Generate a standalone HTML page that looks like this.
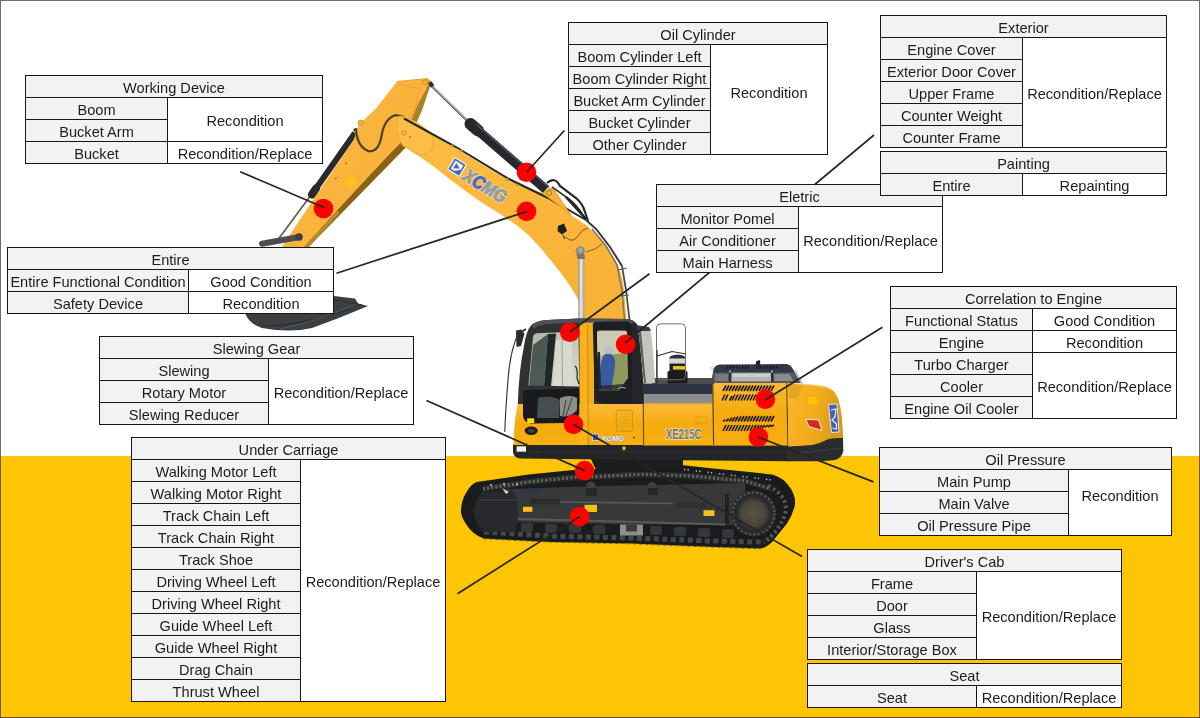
<!DOCTYPE html>
<html><head><meta charset="utf-8"><title>Excavator reconditioning diagram</title>
<style>
html,body{margin:0;padding:0;}
body{width:1200px;height:718px;overflow:hidden;background:#fff;position:relative;font-family:"Liberation Sans",sans-serif;}
#ground{position:absolute;left:0;top:456px;width:1200px;height:262px;background:#fdc504;border-top:1px solid #f3c230;box-shadow:0 -1px 0 #fffbe6;box-sizing:border-box;}
#frame{position:absolute;left:0;top:0;width:1198px;height:716px;border:1px solid rgba(60,60,60,.75);border-bottom-color:rgba(40,30,0,.7);pointer-events:none;z-index:9}
svg{position:absolute;left:0;top:0;}
.c{position:absolute;border:1px solid #161616;font-size:14.6px;color:#1c1c1c;text-align:center;white-space:nowrap;overflow:hidden;filter:grayscale(1);}
.h,.l{background:#f2f2f2;}
.v{background:#fff;}
#lines line{stroke:#262626;stroke-width:1.7;stroke-linecap:butt}
</style></head><body>
<div id="ground"></div>
<svg id="exc" width="1200" height="718" viewBox="0 0 1200 718">
<defs>
<linearGradient id="gArm" x1="0" y1="0" x2="1" y2="0.6">
<stop offset="0" stop-color="#fbb943"/><stop offset="1" stop-color="#f8b03a"/>
</linearGradient>
<linearGradient id="gBoom" x1="0" y1="0" x2="0.3" y2="1">
<stop offset="0" stop-color="#fcbd44"/><stop offset="1" stop-color="#f8b236"/>
</linearGradient>
<linearGradient id="gBody" x1="0" y1="0" x2="0" y2="1">
<stop offset="0" stop-color="#fdb93a"/><stop offset="0.5" stop-color="#f5ab0e"/><stop offset="1" stop-color="#f9af12"/>
</linearGradient>
<linearGradient id="gCw" x1="0" y1="0" x2="1" y2="0.3">
<stop offset="0" stop-color="#fbb62a"/><stop offset="0.6" stop-color="#f3ab1a"/><stop offset="1" stop-color="#d89a1a"/>
</linearGradient>
<linearGradient id="gRod" x1="0" y1="0" x2="1" y2="0">
<stop offset="0" stop-color="#8e8e8a"/><stop offset="0.45" stop-color="#eeeeea"/><stop offset="1" stop-color="#9a9a94"/>
</linearGradient>
<linearGradient id="gGlass" x1="0" y1="0" x2="1" y2="1">
<stop offset="0" stop-color="#aeb5a8"/><stop offset="1" stop-color="#d6dacb"/>
</linearGradient>
<radialGradient id="gSpr" cx="0.5" cy="0.5" r="0.5">
<stop offset="0" stop-color="#5a5446"/><stop offset="0.7" stop-color="#4a453a"/><stop offset="1" stop-color="#26272a"/>
</radialGradient>
<pattern id="teeth" width="6" height="6" patternUnits="userSpaceOnUse" patternTransform="rotate(8)">
<rect width="6" height="6" fill="#1b1d1e"/><rect x="0" y="0" width="3" height="6" fill="#3c3f3f"/>
</pattern>
</defs>

<!-- ===== BUCKET ===== -->
<g id="bucket">
<path d="M245 300 L245 313 Q249 324 262 328 Q290 333 312 328 Q340 318 368 306 L358 303.5 L355 298.5 L334 296 Z" fill="#3b3e43"/>
<path d="M262 326 Q300 326 350 309" stroke="#2a2c30" stroke-width="1.2" fill="none"/>
<path d="M280 329 Q315 322 356 304" stroke="#55585e" stroke-width="1" fill="none"/>
<path d="M334 300 Q348 302 362 305" stroke="#2a2c30" stroke-width="1" fill="none"/>
</g>

<!-- ===== BUCKET CYLINDER (left of arm) ===== -->
<g id="bcyl">
<line x1="311" y1="195" x2="277" y2="241" stroke="#6a6248" stroke-width="1.8"/>
<line x1="355" y1="133" x2="313.5" y2="192" stroke="#2a2a2d" stroke-width="6" />
<line x1="316" y1="188.5" x2="312" y2="194.5" stroke="#2a2a2d" stroke-width="8" stroke-linecap="round"/>
<path d="M354 129 L358 134" stroke="#222" stroke-width="2.4"/>
</g>

<!-- ===== ARM / STICK ===== -->
<g id="arm">
<!-- underside brown band -->
<path d="M400.4 142.5 L406.5 146.8 L310.1 245.4 L308 248 L302 248 L336.9 210.3 L380.3 163.4Z" fill="#8d6312"/>
<path d="M336.9 210.3 L340 212.5 L308 248 L303 248Z" fill="#b98a2c"/>
<!-- face -->
<path d="M397 81.5 L428 78.5 Q431.5 81 430.5 85 L428.7 90 L422 110 L416.8 122 L411 136 L400.4 142.5 L380.3 163.4 L336.9 210.3 L305.1 245.4 L303 248 L281 248 L290 234.5 L315.1 196.9 L353.6 140 L357.3 130 Q358.5 122 362 121.5 L376 108.5 Z" fill="url(#gArm)"/>
<!-- right side shading of upper part -->
<path d="M429 80 Q431.5 81.5 430.5 85 L422 110 L416.8 122 L411.5 119.5 L418 104 L427 88 Z" fill="#a9802a"/>
<path d="M399 84 L419 88.5 L414.5 112 L408 120" stroke="#e2a436" stroke-width="0.9" fill="none"/>
<path d="M397 81.5 L428 78.5" stroke="#e0a234" stroke-width="1"/>
<circle cx="425" cy="82.3" r="2.7" fill="#f1ad3a" stroke="#c98f26" stroke-width="0.8"/>
<circle cx="360.8" cy="122.8" r="2.7" fill="#f4b03c" stroke="#c98f26" stroke-width="0.8"/>
<!-- hydraulic hose -->
<path d="M356 128 Q356.5 146 368 151 Q378.5 153 381.5 136 Q384.5 118 396 115 L404 117" stroke="#8a6e22" stroke-width="2.6" fill="none"/>
<path d="M356 128 Q356.5 146 368 151 Q378.5 153 381.5 136 Q384.5 118 396 115 L404 117" stroke="#3a3220" stroke-width="1.2" fill="none"/>
<!-- small dots & sticker -->
<circle cx="346" cy="163.4" r="1" fill="#b07a18"/><circle cx="335.7" cy="178.5" r="1" fill="#b07a18"/>
<rect x="345" y="177" width="11" height="9" rx="3" fill="#fcc616" opacity="0.85" transform="rotate(-20 350.5 181.5)"/>
</g>

<g id="link">
<line x1="262" y1="243.8" x2="298" y2="237.2" stroke="#4c4e52" stroke-width="6" stroke-linecap="round"/>
<circle cx="299" cy="237" r="3.8" fill="#3c3e42"/>
</g>

<!-- ===== ARM CYLINDER (on boom) ===== -->
<g id="acyl">
<line x1="430.5" y1="84.5" x2="467.5" y2="120.5" stroke="#a5a5a0" stroke-width="2.4"/>
<line x1="430" y1="85.5" x2="467" y2="121.5" stroke="#4a4a4a" stroke-width="1"/>
<rect x="429" y="82" width="4" height="5" fill="#2a2c30" transform="rotate(-30 431 84)"/>
<line x1="471" y1="124.5" x2="546" y2="189.5" stroke="#26282d" stroke-width="9.5" />
<line x1="470.5" y1="124" x2="478" y2="130.5" stroke="#26282d" stroke-width="12" stroke-linecap="round"/>
<line x1="476" y1="124" x2="549" y2="187.3" stroke="#50535a" stroke-width="1.4"/>
</g>

<!-- ===== BOOM ===== -->
<g id="boom">
<path d="M398 116.5 Q404 114 416.5 124.5 L456 148.5 L509 180.5 L545 194 L549 188 Q553 187 556 193 L571 215 L587.5 226 L604 243 Q613 255 618 265 Q623 279 624 290 L626.5 320 L580 320 L579.5 305 L577.9 299.2 L573 290.5 L567.9 282.5 L560 272 L552 262 L541 248.5 L530 236.5 L517 225.5 L500.3 214 L483.6 203.8 L466.9 192 L450.2 179.5 L433.4 166.2 L420 157 Q410 151 406 147 Q398 142 397.5 135 Q395 125 398 116.5Z" fill="url(#gBoom)"/>
<!-- boss at tip -->
<path d="M398 118 Q410 116 430 132 Q436 140 431 150 Q425 158 414 152 L403 146 Q396 138 398 118Z" fill="#fcbe48" stroke="#dfa334" stroke-width="0.7"/>
<circle cx="404" cy="133" r="2.3" fill="none" stroke="#b88220" stroke-width="0.8"/>
<circle cx="410" cy="137" r="1.1" fill="#b88220"/>
<!-- hoses along top -->
<path d="M404 118.5 L456 147 L509 179 L548 198 L586 220" stroke="#2a2722" stroke-width="2" fill="none"/>
<circle cx="452" cy="146" r="1.6" fill="#d29a2a"/><circle cx="461" cy="151" r="1.6" fill="#d29a2a"/>
<circle cx="507" cy="179.5" r="1.6" fill="#d29a2a"/><circle cx="517" cy="185" r="1.6" fill="#d29a2a"/>
<!-- lug -->
<path d="M543 194 Q548 186 555 191 L571 215 L560 206Z" fill="#f7b436" stroke="#c99328" stroke-width="0.7"/>
<circle cx="549" cy="193" r="2.6" fill="none" stroke="#a8781c" stroke-width="0.9"/>
<!-- hoses from cylinder going down the back of boom -->
<path d="M547 183 Q555 176 560 186 L576 198 Q583 204 585 212 L588 221" stroke="#29282a" stroke-width="2.2" fill="none"/>
<path d="M552 187 L569 199 Q578 206 584 217" stroke="#3a3630" stroke-width="1.6" fill="none"/>
<path d="M566 197 L586 219" stroke="#222" stroke-width="2.6" fill="none"/>
<path d="M586 220 L596 229 L610 247 L622 266" stroke="#3c3c3a" stroke-width="2" fill="none"/>
<path d="M592 229 L606 246 L617 265 L622 290 L624.5 320" stroke="#77756a" stroke-width="1.5" fill="none"/>
<path d="M622 266 L626 290 L629.5 320" stroke="#4c4c48" stroke-width="1.8" fill="none"/>
<path d="M618 270 L627 268 M621 296 L629 295" stroke="#55554e" stroke-width="1"/>
<!-- work light -->
<path d="M558 226 L564 223.5 L567 231 L562 234.5 L557.5 231Z" fill="#1d1e20"/>
<path d="M563 235 L565 239" stroke="#333" stroke-width="1.1"/>
<path d="M566 237 Q572 244 578 236 Q582 229 588 228" stroke="#3a3020" stroke-width="0.7" fill="none"/>
<path d="M586 252 Q596 250 602 244" stroke="#3a3020" stroke-width="0.6" fill="none"/>
<!-- XCMG logo -->
<g transform="translate(448.3,171) rotate(31.5)">
<rect x="-1.6" y="-14.8" width="13.8" height="13.8" rx="1" fill="#4767b5" stroke="#eef1f7" stroke-width="1.2"/>
<path d="M0.7 -12.6 L10 -12.6 L10 -7.6 L5.4 -3.2 L0.7 -3.2 Z" fill="#eef1f7"/>
<path d="M2.8 -11 L8.3 -7.9 L2.8 -4.8 Z" fill="#4767b5"/>
<text x="15.5" y="0" font-family="Liberation Sans, sans-serif" font-weight="bold" font-style="italic" font-size="18.3" stroke="#eef0f0" stroke-width="1.7" paint-order="stroke" stroke-linejoin="round" textLength="47.5" lengthAdjust="spacingAndGlyphs"><tspan fill="#999b9c">X</tspan><tspan fill="#4c68c4">C</tspan><tspan fill="#999b9c">MG</tspan></text>
<text x="15.5" y="0" font-family="Liberation Sans, sans-serif" font-weight="bold" font-style="italic" font-size="18.3" stroke-width="1.0" textLength="47.5" lengthAdjust="spacingAndGlyphs"><tspan fill="#999b9c" stroke="#999b9c">X</tspan><tspan fill="#4c68c4" stroke="#4c68c4">C</tspan><tspan fill="#999b9c" stroke="#999b9c">MG</tspan></text>
</g>

<!-- ===== BOOM CYLINDER (silver) ===== -->
<g id="boomcyl">
<rect x="578.3" y="255" width="6" height="65" fill="url(#gRod)"/>
<circle cx="580.3" cy="251" r="4.6" fill="#8b8b85"/>
<circle cx="580.3" cy="250.5" r="2.4" fill="#aaa9a2"/>
<path d="M576.5 254 L584.5 254 L584.8 259 L577.5 259Z" fill="#77776f"/>
</g>

<!-- ===== TRACKS ===== -->
<g id="tracks">
<!-- outer belt -->
<path d="M476.5 482 L528.5 474.5 L573.5 470 L600 469 L681 465 L713.5 468.5 L747 471.7 L772 474.5 Q781 477 785.5 482 Q792 489 793.8 495 Q796 501 794.5 507 Q792 516 787 523.5 L772 542 Q766 548 760 548.6 L713.5 547 L630 543.6 L550 542 L483.5 538.6 Q472 534 466 524 Q460.5 516 461 510 Q461.5 500 466 493 Q470 485 476.5 482Z" fill="#1a1b1c"/>
<!-- belt top surface lighter w/ teeth -->
<path d="M482 486 L529 479 L574 474.5 L600 473.5 L640 471.5 L690 473 L745 478 L768 486 L772 491 L745 484 L690 479 L640 477.5 L600 479.5 L574 480.5 L529 485 L484 492Z" fill="#2c2e2f"/>
<path d="M483 489 L529 482 L574 477.5 L600 476.5 L640 474.5 L690 476 L745 481 L769 488.5" stroke="#66685f" stroke-width="3.4" stroke-dasharray="1.8 2.4" fill="none"/>
<path d="M483 491.5 L529 484.5 L574 480 L600 479 L640 477 L690 478.5 L745 483.5 L769 491" stroke="#242627" stroke-width="1.4" fill="none"/>
<!-- white dots on belt top right -->
<path d="M684 469.5 L772 480" stroke="#c8c8c8" stroke-width="1.4" stroke-dasharray="1.3 2.2 1.3 7" fill="none"/>
<!-- bottom teeth -->
<path d="M484 532 L550 536 L630 538 L713 541 L762 542" stroke="#45484a" stroke-width="5" stroke-dasharray="5 3.5" fill="none"/>
<path d="M483.5 538.8 L550 542.2 L630 543.8 L713.5 547.2 L760 548.8" stroke="#6d5a18" stroke-width="0.9" stroke-dasharray="3 3" fill="none"/>
<!-- inner frame -->
<path d="M505 489 L600 486 L745 483 L745 525 L600 524 L505 522Z" fill="#37383a"/>
<path d="M560 502 L673 503.5" stroke="#5a5c5c" stroke-width="1.3"/>
<path d="M517 519 L600 521 L725 524.5" stroke="#5a5b55" stroke-width="2"/>
<rect x="530" y="498.5" width="30" height="6" fill="#2a2b2d"/><rect x="676" y="502" width="30" height="6" fill="#2f3032"/>
<path d="M523 490 L540 489 L540 492 L523 493Z" fill="#2c3358"/>
<!-- rollers bottom -->
<g fill="#33363a"><rect x="521" y="523" width="12" height="9" rx="2"/><rect x="545" y="524" width="12" height="9" rx="2"/><rect x="569" y="524" width="12" height="9" rx="2"/><rect x="593" y="525" width="12" height="9" rx="2"/><rect x="650" y="526" width="12" height="9" rx="2"/><rect x="674" y="527" width="12" height="9" rx="2"/><rect x="698" y="528" width="12" height="9" rx="2"/><rect x="722" y="529" width="12" height="9" rx="2"/></g>
<rect x="620" y="524.5" width="23" height="11" fill="#8e8e86"/><rect x="626" y="524.5" width="11" height="7" fill="#3a3a3a"/>
<!-- carrier roller -->
<circle cx="591" cy="486" r="4.6" fill="#3e4043"/><rect x="586" y="488" width="11" height="8" fill="#26282b"/>
<circle cx="652" cy="486" r="4" fill="#3e4043"/><rect x="648" y="488" width="10" height="7" fill="#26282b"/>
<!-- idler -->
<path d="M482 492 Q474 500 474 512 Q475 524 484 532 L514 532 Q518 528 518 512 Q518 496 512 490Z" fill="#27292c"/>
<path d="M480 500 L516 500" stroke="#3f4246" stroke-width="1"/>
<path d="M502 488 L509 492 L506 494Z" fill="#d0d0d0"/>
<!-- sprocket -->
<circle cx="753.5" cy="513.5" r="23" fill="#2a2b2c"/>
<circle cx="753.5" cy="513.5" r="21" fill="none" stroke="#5c5a50" stroke-width="2" stroke-dasharray="2 2.4"/>
<circle cx="753.5" cy="513.5" r="17.5" fill="url(#gSpr)"/>
<rect x="725" y="494" width="4" height="30" fill="#1f2022"/>
<!-- belt teeth on right curve -->
<path d="M768 486 Q786 494 786 510 Q782 528 764 543" stroke="#55585a" stroke-width="4" stroke-dasharray="2.5 3" fill="none"/>
<!-- yellow labels -->
<rect x="523" y="506.8" width="9.4" height="5" fill="#f6c116"/>
<rect x="584.5" y="504.8" width="12.5" height="7.2" fill="#f6c116"/>
<rect x="703.5" y="510.2" width="10.9" height="5.8" fill="#f6c116"/>
<!-- left end white dots -->
<circle cx="491" cy="485" r="0.9" fill="#ddd"/><circle cx="504" cy="484" r="0.9" fill="#ddd"/><circle cx="517" cy="484.5" r="0.9" fill="#ddd"/>
</g>

<!-- ===== UPPER BODY ===== -->
<g id="body">
<!-- swing base / shadow -->
<path d="M590 457 L683 459 L683 466 L640 472 L600 470 L596 470Z" fill="#1c1d1f"/>
<!-- bottom dark skirt -->
<path d="M513 444.5 L790 444.5 L790 461.2 L650 460 L520 458.6 Q513 457.5 513 451Z" fill="#232528"/>
<path d="M513 452 L790 452" stroke="#2f3135" stroke-width="1"/>
<!-- counterweight dark lower -->
<path d="M788.8 446.2 L812 444.6 Q821 442.5 828 438.6 Q834 437 843 437.2 L843.3 451 Q842 458 835 460 L821 461.2 L788.8 461.2Z" fill="#2a2c30"/>
<path d="M800 453 L843 448" stroke="#3d4046" stroke-width="1"/>
<!-- mid body yellow -->
<rect x="643" y="403.5" width="70" height="42" fill="url(#gBody)"/>
<!-- dark top band -->
<rect x="643" y="383.5" width="70" height="11" fill="#2d3242"/>
<rect x="643" y="394.3" width="70" height="9.6" fill="#8c8c8c"/>
<rect x="643" y="402.8" width="70" height="1.5" fill="#c9a24a"/>
<!-- engine hood panel -->
<rect x="712.4" y="382.6" width="76" height="63" fill="url(#gBody)"/>
<line x1="712.8" y1="383" x2="713.6" y2="445" stroke="#5a4414" stroke-width="1.2"/>
<line x1="786.8" y1="383" x2="788.2" y2="460" stroke="#4a3a14" stroke-width="1.1"/>
<!-- engine top cover -->
<path d="M711.4 383 L713.4 369.5 Q715 365 720 364.6 L786 363.9 Q790.5 364.3 792.6 368.5 L800.8 383Z" fill="#323848"/>
<path d="M713 372.5 L794.5 372.5 L800.8 383 L711.4 383Z" fill="#555a62"/>
<path d="M731.5 372.8 L771 372.8 L772 381.6 L731 381.6Z" fill="#b4b5ae"/>
<path d="M733 374 L769.5 374 L770 377 L733 377Z" fill="#cfd0ca"/>
<path d="M715.5 374 L728 374 L728 381 L714.5 381Z" fill="#767a7e"/>
<path d="M774 374 L789.5 374 L793.5 381 L774.5 381Z" fill="#8a8d8e"/>
<rect x="729" y="370.5" width="2.2" height="11.5" fill="#2b2f3a"/><rect x="771" y="370.5" width="2.2" height="11.5" fill="#2b2f3a"/>
<circle cx="730" cy="371.5" r="0.9" fill="#dcdcdc"/><circle cx="772" cy="371.5" r="0.9" fill="#dcdcdc"/>
<path d="M727 367.3 L749 367.3 M761 367.3 L779 367.3" stroke="#15171c" stroke-width="3" stroke-dasharray="1.4 1.6"/>
<path d="M755.5 369 L756 361.2 L760 360 L760.5 369Z" fill="#23262d"/>
<path d="M792.6 368.5 L800.8 383 L803.5 384 L795.5 370Z" fill="#c2c2ba"/>
<path d="M710 367.5 L714.5 369.5" stroke="#888" stroke-width="0.6"/>
<!-- vents -->
<g stroke="#20180a" stroke-width="1.6">
<path d="M723 391 L726 385.5 M726 391 L729 385.5 M729 391 L732 385.5 M732 391 L735 385.5 M735 391 L738 385.5 M738 391 L741 385.5 M741 391 L744 385.5 M744 391 L747 385.5 M747 391 L750 385.5 M750 391 L753 385.5 M753 391 L756 385.5 M756 391 L759 385.5 M759 391 L762 385.5 M762 391 L765 385.5 M765 391 L768 385.5 M768 391 L771 385.5 M771 391 L774 385.5"/>
<path d="M722 400.5 L725 394.5 M725 400.5 L728 394.5 M729.5 400.5 L732 396 M732 400.5 L735 394.5 M735 400.5 L738 394.5 M738 400.5 L741 394.5 M741 400.5 L744 394.5 M744 400.5 L747 394.5 M747 400.5 L750 394.5 M750 400.5 L753 394.5 M753 400.5 L756 394.5"/>
<path d="M723 421.5 L725 419.5 M726 421.5 L728.5 418.5 M729 421.5 L732 417.5 M732 421.5 L735 417 M735 421.5 L738 416.5 M738 421.5 L741 416.3 M741 421.5 L744 416 M744 421.5 L747 416 M747 421.5 L750 416 M750 421.5 L753 416 M753 421.5 L756 416 M756 421.5 L759 416 M759 421.5 L762 416 M762 421.5 L765 416 M765 421.5 L768 416 M768 421.5 L771 416 M771 421.5 L774 416"/>
<path d="M723 431 L726 425 M726 431 L729 425 M729 431 L732 425 M732 431 L735 425 M735 431 L738 425 M738 431 L741 425 M741 431 L744 425 M744 431 L747 425 M747 431 L750 425 M750 431 L753 425 M753 430.5 L756 425 M756 429.5 L759 425 M759 428.5 L762 425 M762 428 L765 425 M765 427.5 L768 425 M768 427 L771 425 M771 426.5 L774 425"/>
</g>
<!-- counterweight -->
<path d="M787.4 383 Q810 383.5 825.4 386.5 Q834 389 837.5 397 Q841 407 842 418 L843.2 438 Q834 437.5 828 439.2 Q821 443 812 445 L788.4 446.6Z" fill="url(#gCw)"/>
<path d="M788 384 Q796 384 803 386 Q800 392 797 398 L789 398Z" fill="#d29a20" opacity=".55"/>
<path d="M800 383.8 Q822 386 832 390" stroke="#f8d88c" stroke-width="1" fill="none" opacity=".7"/>
<rect x="807" y="396.5" width="10.5" height="8.5" fill="#f8c208" stroke="#e6b010" stroke-width="0.6"/>
<path d="M805.9 419.3 L818.6 420 L821.9 430.4 L808.9 426.5Z" fill="#d6281e" stroke="#f0e6dc" stroke-width="1"/>
<path d="M828.5 404.5 L837 404 L839 432 L831.5 432.5Z" fill="#4460ae" stroke="#dfe4ee" stroke-width="1"/>
<path d="M831 410 L836 409 L835 417 L832 420 L836.5 424 L836.5 429 L832.5 428" stroke="#eef0f6" stroke-width="1.2" fill="none"/>
<!-- XE215C -->
<text x="665.8" y="439.1" font-family="Liberation Sans, sans-serif" font-weight="bold" font-size="15.5" fill="#787878" stroke="#ecdfb8" stroke-width="1.7" paint-order="stroke" stroke-linejoin="round" textLength="35.6" lengthAdjust="spacingAndGlyphs">XE215C</text>
<rect x="696" y="417" width="11" height="6.5" fill="none" stroke="#d99e20" stroke-width="0.8"/>
<!-- precleaner / air filter -->
<rect x="652" y="378" width="62" height="6" fill="#4a4c52"/>
<rect x="669.5" y="362" width="16" height="21" fill="#1e1f22"/>
<rect x="667.5" y="371" width="20" height="12.5" rx="1.5" fill="#1b1c1f"/>
<rect x="669.2" y="358" width="16.6" height="5.6" fill="#d8d6c8"/>
<path d="M669 358.6 Q669.5 355 677.5 354.6 Q685.5 355 686 358.6Z" fill="#2b3040"/>
<rect x="673" y="366" width="13" height="3.6" fill="#e6c41e"/>
<!-- mirror -->
<rect x="656.5" y="323.8" width="29" height="56" rx="4" fill="none" stroke="#6f716f" stroke-width="1"/>
<path d="M657 356 L672 351.5 L686 354" stroke="#2a2c2e" stroke-width="1.2" fill="none"/>
<line x1="657" y1="350" x2="657" y2="384" stroke="#333" stroke-width="1.3"/>
</g>

<!-- ===== CAB ===== -->
<g id="cab">
<!-- cab shell dark -->
<path d="M517.8 404 Q519 370 523.7 347.5 Q526 331 531 325.5 Q536 320.5 547.5 320 L578 318.5 L628 319 Q634 320 636.5 324 L640 340 L643.5 385.5 L643.5 404Z" fill="#2f3133"/>
<!-- roof highlight -->
<path d="M531 325.5 Q536 320.5 547.5 320 L578 318.5 L628 319 Q634 320 636.5 324 L580 322.5 L548 324 Q538 325 534 329Z" fill="#4d5054"/>
<!-- yellow lower cab -->
<path d="M517.8 404 L643.5 404 L643.5 445 L513.5 445 Q514 420 517.8 404Z" fill="url(#gBody)"/>
<!-- yellow pillar + door frame -->
<path d="M579.5 323 L589 322.5 L589 445 L579.5 445Z" fill="#f9b21c"/>
<path d="M589 322.5 L594 322.5 L594 404 L589 404Z" fill="#f5ac18"/>
<path d="M586 404 L643.5 404 L643.5 445 L588 445Z" fill="url(#gBody)"/>
<line x1="587.6" y1="324" x2="588.3" y2="445" stroke="#b8841a" stroke-width="0.9"/>
<line x1="643.2" y1="385" x2="643.6" y2="445" stroke="#6a5216" stroke-width="1.2"/>
<!-- front upper glass -->
<path d="M528.4 385.5 L533.1 336 Q534 333.5 537 333.3 L578.5 331.5 L579.3 386.4Z" fill="url(#gGlass)"/>
<path d="M533 345 L548 334 L544 386 L529 386Z" fill="#3a4542" opacity=".85"/>
<path d="M548 334 L556 333.5 L551 386 L544 386Z" fill="#202827"/>
<path d="M556 340 L572 338 L573 386 L553 386Z" fill="#d9ddd2" opacity=".8"/>
<line x1="562" y1="338" x2="562.5" y2="386" stroke="#8d948c" stroke-width="0.8"/>
<path d="M575 366 Q578 368 577 378 L579 384" stroke="#2c2f2e" stroke-width="1.3" fill="none"/>
<!-- front lower window -->
<path d="M523 390 L579.3 388.5 L579.3 414 Q577 422 568 423 L531 423.5 Q524 423 523 416Z" fill="#181a1d"/>
<path d="M538 398 Q550 394 560 400 L559 418 L537 418Z" fill="#474d50"/>
<path d="M560 398 Q570 394 577 398 L577 410 Q570 418 560 416Z" fill="#a9ada6" opacity=".8"/>
<path d="M566 400 L563 416 M572 398 L566 416" stroke="#3a3d3c" stroke-width="1"/>
<!-- door window frame -->
<path d="M592.8 325 Q593 322.2 596 322 L627 321.3 Q631 322 632.5 328.4 L632.5 404.1 L603 404.1 Q595 402 594.7 395Z" fill="#1d1f22"/>
<path d="M597 333 Q597 331 599 330.8 L625 330.8 Q627 331 627 333 L627.8 378 L618.3 391.1 L600.5 391.1 Q599 391 599 389Z" fill="#b3b896"/>
<path d="M597 333 Q597 331 599 330.8 L625 330.8 Q627 331 627 333 L627 352 L597.5 356Z" fill="#c9ccb0"/>
<!-- operator -->
<path d="M612 355 L626.5 353 L627.5 378 L619.5 389 L610 389 Q612 372 612 355Z" fill="#8e9a58"/>
<path d="M600 388 Q599 366 603 356 Q606 352 611 354 Q616 357 615 366 Q613 380 611 390Z" fill="#3a5aa0"/>
<ellipse cx="608" cy="350" rx="4.6" ry="4" fill="#b9c0cc"/>
<path d="M597.5 352 L600 352 L601 389 L598 389Z" fill="#23272a"/>
<path d="M598 386 L624 384 L618.3 391.1 L599.4 391.1Z" fill="#23272a" opacity=".8"/>
<path d="M618 388.5 Q622 386.5 626 388" stroke="#c8c8c8" stroke-width="0.8" fill="none"/>
<!-- rear pillar and quarter glass -->
<path d="M632.5 322 L637 324 L643.5 385 L643.5 404 L632.5 404Z" fill="#232528"/>
<path d="M638.5 331 L650 329 Q653 340 655 383 L644 383Z" fill="#c5c6bb"/>
<path d="M636 325 L649 327 L651 331 L638 331Z" fill="#3a3c40"/>
<path d="M638.5 331 L641 331 L646 383 L644 383Z" fill="#5d6060"/>
<!-- door vent -->
<rect x="616.3" y="410.3" width="16" height="21" rx="1.5" fill="none" stroke="#c98f18" stroke-width="0.9"/>
<path d="M618.5 414 L630 414 M618.5 417 L630 417 M618.5 420 L630 420 M618.5 423 L630 423 M618.5 426 L630 426" stroke="#d99c1c" stroke-width="0.7"/>
<!-- door XCMG logo -->
<rect x="592.5" y="434" width="6" height="6.5" fill="#3f5eb0" stroke="#e4e8f2" stroke-width="0.7"/>
<text x="601.5" y="440.6" font-family="Liberation Sans, sans-serif" font-weight="bold" font-style="italic" font-size="8" fill="#e8ecf4" stroke="#7e90c0" stroke-width="0.6" paint-order="stroke" textLength="22.5" lengthAdjust="spacingAndGlyphs">XCMG</text>
<circle cx="634" cy="437.5" r="0.9" fill="#5a4210"/>
<rect x="622.5" y="446.5" width="3" height="3.6" fill="#e8bf28"/>
<!-- headlight, stickers -->
<ellipse cx="531.2" cy="430.8" rx="6.6" ry="4.2" fill="#1a1b1d"/>
<ellipse cx="531.2" cy="430.8" rx="3.6" ry="2" fill="#3d4044"/>
<rect x="527.2" y="418.3" width="7" height="4.8" fill="#ffd91a"/>
<rect x="516.6" y="446.3" width="9.4" height="5.4" fill="#f2f2f0"/>
<!-- handrail / wiper on the left -->
<path d="M519 332 Q510 350 508 380 Q505.5 410 504.8 432" stroke="#2d2f31" stroke-width="1.1" fill="none"/>
<path d="M516 330.5 L521.5 329.5 L524.5 334 L521 346 L516.5 347Z" fill="#2a2c2f"/>
<path d="M520 333 L526 329" stroke="#2a2c2f" stroke-width="1.6"/>
</g>

</svg>
<svg id="dots" width="1200" height="718" viewBox="0 0 1200 718">
<circle cx="323.5" cy="208.5" r="9.8" fill="#fe0000"/>
<circle cx="526.5" cy="172.3" r="9.8" fill="#fe0000"/>
<circle cx="526.5" cy="211.4" r="9.8" fill="#fe0000"/>
<circle cx="569.8" cy="332.2" r="9.8" fill="#fe0000"/>
<circle cx="625.6" cy="344.4" r="9.8" fill="#fe0000"/>
<circle cx="765.4" cy="399.2" r="9.8" fill="#fe0000"/>
<circle cx="758.4" cy="437.0" r="9.8" fill="#fe0000"/>
<circle cx="573.5" cy="424.4" r="9.8" fill="#fe0000"/>
<circle cx="584.5" cy="470.6" r="9.8" fill="#fe0000"/>
<circle cx="579.6" cy="516.6" r="9.8" fill="#fe0000"/>
<g id="lines">
<line x1="240.2" y1="171.8" x2="324" y2="207.5"/>
<line x1="336.5" y1="273.2" x2="527" y2="211.5"/>
<line x1="564.4" y1="130.5" x2="527" y2="171.8"/>
<line x1="874" y1="135" x2="625" y2="343"/>
<line x1="649.5" y1="273.7" x2="570" y2="332"/>
<line x1="882.4" y1="327.3" x2="765" y2="400"/>
<line x1="873.5" y1="481.9" x2="758" y2="437"/>
<line x1="802" y1="556.5" x2="573.5" y2="424.4"/>
<line x1="426.5" y1="400.5" x2="584.5" y2="470.6"/>
<line x1="457.5" y1="593.7" x2="580" y2="516.4"/>
</g>
</svg>
<div class="c h" style="left:25px;top:75px;width:296px;height:21px;line-height:25px">Working Device</div>
<div class="c l" style="left:25px;top:97px;width:141px;height:21px;line-height:25px">Boom</div>
<div class="c l" style="left:25px;top:119px;width:141px;height:21px;line-height:25px">Bucket Arm</div>
<div class="c l" style="left:25px;top:141px;width:141px;height:21px;line-height:25px">Bucket</div>
<div class="c v" style="left:167px;top:97px;width:154px;height:43px;line-height:47px">Recondition</div>
<div class="c v" style="left:167px;top:141px;width:154px;height:21px;line-height:25px">Recondition/Replace</div>
<div class="c h" style="left:7px;top:247px;width:325px;height:21px;line-height:25px">Entire</div>
<div class="c l" style="left:7px;top:269px;width:180px;height:21px;line-height:25px">Entire Functional Condition</div>
<div class="c l" style="left:7px;top:291px;width:180px;height:21px;line-height:25px">Safety Device</div>
<div class="c v" style="left:188px;top:269px;width:144px;height:21px;line-height:25px">Good Condition</div>
<div class="c v" style="left:188px;top:291px;width:144px;height:21px;line-height:25px">Recondition</div>
<div class="c h" style="left:99px;top:336px;width:313px;height:21px;line-height:25px">Slewing Gear</div>
<div class="c l" style="left:99px;top:358px;width:168px;height:21px;line-height:25px">Slewing</div>
<div class="c l" style="left:99px;top:380px;width:168px;height:21px;line-height:25px">Rotary Motor</div>
<div class="c l" style="left:99px;top:402px;width:168px;height:21px;line-height:25px">Slewing Reducer</div>
<div class="c v" style="left:268px;top:358px;width:144px;height:65px;line-height:69px">Recondition/Replace</div>
<div class="c h" style="left:131px;top:437px;width:313px;height:21px;line-height:25px">Under Carriage</div>
<div class="c l" style="left:131px;top:459px;width:168px;height:21px;line-height:25px">Walking Motor Left</div>
<div class="c l" style="left:131px;top:481px;width:168px;height:21px;line-height:25px">Walking Motor Right</div>
<div class="c l" style="left:131px;top:503px;width:168px;height:21px;line-height:25px">Track Chain Left</div>
<div class="c l" style="left:131px;top:525px;width:168px;height:21px;line-height:25px">Track Chain Right</div>
<div class="c l" style="left:131px;top:547px;width:168px;height:21px;line-height:25px">Track Shoe</div>
<div class="c l" style="left:131px;top:569px;width:168px;height:21px;line-height:25px">Driving Wheel Left</div>
<div class="c l" style="left:131px;top:591px;width:168px;height:21px;line-height:25px">Driving Wheel Right</div>
<div class="c l" style="left:131px;top:613px;width:168px;height:21px;line-height:25px">Guide Wheel Left</div>
<div class="c l" style="left:131px;top:635px;width:168px;height:21px;line-height:25px">Guide Wheel Right</div>
<div class="c l" style="left:131px;top:657px;width:168px;height:21px;line-height:25px">Drag Chain</div>
<div class="c l" style="left:131px;top:679px;width:168px;height:21px;line-height:25px">Thrust Wheel</div>
<div class="c v" style="left:300px;top:459px;width:144px;height:241px;line-height:245px">Recondition/Replace</div>
<div class="c h" style="left:568px;top:22px;width:258px;height:21px;line-height:25px">Oil Cylinder</div>
<div class="c l" style="left:568px;top:44px;width:141px;height:21px;line-height:25px">Boom Cylinder Left</div>
<div class="c l" style="left:568px;top:66px;width:141px;height:21px;line-height:25px">Boom Cylinder Right</div>
<div class="c l" style="left:568px;top:88px;width:141px;height:21px;line-height:25px">Bucket Arm Cylinder</div>
<div class="c l" style="left:568px;top:110px;width:141px;height:21px;line-height:25px">Bucket Cylinder</div>
<div class="c l" style="left:568px;top:132px;width:141px;height:21px;line-height:25px">Other Cylinder</div>
<div class="c v" style="left:710px;top:44px;width:116px;height:109px;line-height:97px">Recondition</div>
<div class="c h" style="left:880px;top:15px;width:285px;height:21px;line-height:25px">Exterior</div>
<div class="c l" style="left:880px;top:37px;width:141px;height:21px;line-height:25px">Engine Cover</div>
<div class="c l" style="left:880px;top:59px;width:141px;height:21px;line-height:25px">Exterior Door Cover</div>
<div class="c l" style="left:880px;top:81px;width:141px;height:21px;line-height:25px">Upper Frame</div>
<div class="c l" style="left:880px;top:103px;width:141px;height:21px;line-height:25px">Counter Weight</div>
<div class="c l" style="left:880px;top:125px;width:141px;height:21px;line-height:25px">Counter Frame</div>
<div class="c v" style="left:1022px;top:37px;width:143px;height:109px;line-height:113px">Recondition/Replace</div>
<div class="c h" style="left:656px;top:184px;width:285px;height:21px;line-height:25px">Eletric</div>
<div class="c l" style="left:656px;top:206px;width:141px;height:21px;line-height:25px">Monitor Pomel</div>
<div class="c l" style="left:656px;top:228px;width:141px;height:21px;line-height:25px">Air Conditioner</div>
<div class="c l" style="left:656px;top:250px;width:141px;height:21px;line-height:25px">Main Harness</div>
<div class="c v" style="left:798px;top:206px;width:143px;height:65px;line-height:69px">Recondition/Replace</div>
<div class="c h" style="left:880px;top:151px;width:285px;height:21px;line-height:25px">Painting</div>
<div class="c l" style="left:880px;top:173px;width:141px;height:21px;line-height:25px">Entire</div>
<div class="c v" style="left:1022px;top:173px;width:143px;height:21px;line-height:25px">Repainting</div>
<div class="c h" style="left:890px;top:286px;width:285px;height:21px;line-height:25px">Correlation to Engine</div>
<div class="c l" style="left:890px;top:308px;width:141px;height:21px;line-height:25px">Functional Status</div>
<div class="c l" style="left:890px;top:330px;width:141px;height:21px;line-height:25px">Engine</div>
<div class="c l" style="left:890px;top:352px;width:141px;height:21px;line-height:25px">Turbo Charger</div>
<div class="c l" style="left:890px;top:374px;width:141px;height:21px;line-height:25px">Cooler</div>
<div class="c l" style="left:890px;top:396px;width:141px;height:21px;line-height:25px">Engine Oil Cooler</div>
<div class="c v" style="left:1032px;top:308px;width:143px;height:21px;line-height:25px">Good Condition</div>
<div class="c v" style="left:1032px;top:330px;width:143px;height:21px;line-height:25px">Recondition</div>
<div class="c v" style="left:1032px;top:352px;width:143px;height:65px;line-height:69px">Recondition/Replace</div>
<div class="c h" style="left:879px;top:447px;width:291px;height:21px;line-height:25px">Oil Pressure</div>
<div class="c l" style="left:879px;top:469px;width:188px;height:21px;line-height:25px">Main Pump</div>
<div class="c l" style="left:879px;top:491px;width:188px;height:21px;line-height:25px">Main Valve</div>
<div class="c l" style="left:879px;top:513px;width:188px;height:21px;line-height:25px">Oil Pressure Pipe</div>
<div class="c v" style="left:1068px;top:469px;width:102px;height:65px;line-height:52.0px">Recondition</div>
<div class="c h" style="left:807px;top:549px;width:313px;height:21px;line-height:25px">Driver's Cab</div>
<div class="c l" style="left:807px;top:571px;width:168px;height:21px;line-height:25px">Frame</div>
<div class="c l" style="left:807px;top:593px;width:168px;height:21px;line-height:25px">Door</div>
<div class="c l" style="left:807px;top:615px;width:168px;height:21px;line-height:25px">Glass</div>
<div class="c l" style="left:807px;top:637px;width:168px;height:21px;line-height:25px">Interior/Storage Box</div>
<div class="c v" style="left:976px;top:571px;width:144px;height:87px;line-height:91px">Recondition/Replace</div>
<div class="c h" style="left:807px;top:663px;width:313px;height:21px;line-height:25px">Seat</div>
<div class="c l" style="left:807px;top:685px;width:168px;height:21px;line-height:25px">Seat</div>
<div class="c v" style="left:976px;top:685px;width:144px;height:21px;line-height:25px">Recondition/Replace</div>
<div id="frame"></div>
</body></html>
